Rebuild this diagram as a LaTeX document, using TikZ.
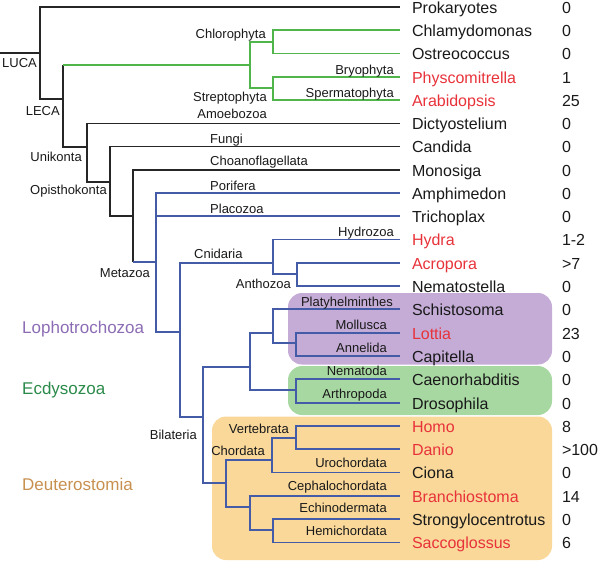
\documentclass[tikz,border=0pt]{standalone}
\usepackage{fontspec}
\setmainfont{Liberation Sans}
\usetikzlibrary{positioning}

\definecolor{plantgreen}{RGB}{80,182,76}
\definecolor{metablue}{RGB}{68,92,168}
\definecolor{hired}{RGB}{232,50,58}
\definecolor{lophobox}{RGB}{196,172,214}
\definecolor{lophotext}{RGB}{140,108,180}
\definecolor{ecdybox}{RGB}{168,216,162}
\definecolor{ecdytext}{RGB}{42,138,74}
\definecolor{deutbox}{RGB}{249,216,154}
\definecolor{deuttext}{RGB}{200,144,80}

\begin{document}
\begin{tikzpicture}[x=1pt, y=-1pt,
  tree/.style={line width=1.3pt, black!85},
  plant/.style={line width=1.3pt, plantgreen},
  meta/.style={line width=1.3pt, metablue},
  leaf/.style={anchor=west, inner xsep=12pt, inner ysep=0pt, outer sep=0pt,
    text height=12pt, text depth=0pt, text=black!90, font=\fontsize{16}{18}\selectfont},
  hit/.style={leaf, text=hired},
  count/.style={anchor=west, inner xsep=2pt, inner ysep=0pt, outer sep=0pt,
    text height=12pt, text depth=0pt, text=black!90, font=\fontsize{16}{18}\selectfont},
  clade/.style={inner sep=0pt, text=black!90, font=\fontsize{13}{15}\selectfont},
  group/.style={inner sep=0pt, anchor=base west, font=\fontsize{17}{20}\selectfont}]

%\draw[step=10, gray!30] (0,0) grid (600,563);
\useasboundingbox (0,0) rectangle (600,563);

% coloured groups
\fill[lophobox, rounded corners=14pt] (288,293) rectangle (552,364.5);
\fill[ecdybox, rounded corners=14pt] (288,366) rectangle (552,415);
\fill[deutbox, rounded corners=14pt] (212,416.5) rectangle (552,560);

\node[group, text=lophotext] (g-lopho) at (22,333) {Lophotrochozoa};
\node[group, text=ecdytext] (g-ecdy) at (22,394) {Ecdysozoa};
\node[group, text=deuttext] (g-deut) at (22,490) {Deuterostomia};

% leaves
\node[leaf] (prok) at (400,7) {Prokaryotes};
\node[leaf] (chlamy) at (400,30) {Chlamydomonas};
\node[leaf] (ostreo) at (400,53.5) {Ostreococcus};
\node[hit] (physco) at (400,77) {Physcomitrella};
\node[hit] (arabi) at (400,100) {Arabidopsis};
\node[leaf] (dicty) at (400,123.5) {Dictyostelium};
\node[leaf] (candida) at (400,146.5) {Candida};
\node[leaf] (monosiga) at (400,170) {Monosiga};
\node[leaf] (amphi) at (400,193) {Amphimedon};
\node[leaf] (tricho) at (400,216) {Trichoplax};
\node[hit] (hydra) at (400,239.5) {Hydra};
\node[hit] (acro) at (400,263) {Acropora};
\node[leaf] (nemato) at (400,286) {Nematostella};
\node[leaf] (schisto) at (400,309) {Schistosoma};
\node[hit] (lottia) at (400,333) {Lottia};
\node[leaf] (capi) at (400,356) {Capitella};
\node[leaf] (caeno) at (400,379) {Caenorhabditis};
\node[leaf] (droso) at (400,403) {Drosophila};
\node[hit] (homo) at (400,426) {Homo};
\node[hit] (danio) at (400,449) {Danio};
\node[leaf] (ciona) at (400,472.5) {Ciona};
\node[hit] (branchio) at (400,496) {Branchiostoma};
\node[leaf] (strongy) at (400,519) {Strongylocentrotus};
\node[hit] (sacco) at (400,542.5) {Saccoglossus};

% counts
\node[count] (n-prok) at (560,7) {0};
\node[count] (n-chlamy) at (560,30) {0};
\node[count] (n-ostreo) at (560,53.5) {0};
\node[count] (n-physco) at (560,77) {1};
\node[count] (n-arabi) at (560,100) {25};
\node[count] (n-dicty) at (560,123.5) {0};
\node[count] (n-candida) at (560,146.5) {0};
\node[count] (n-monosiga) at (560,170) {0};
\node[count] (n-amphi) at (560,193) {0};
\node[count] (n-tricho) at (560,216) {0};
\node[count] (n-hydra) at (560,239.5) {1-2};
\node[count] (n-acro) at (560,263) {>7};
\node[count] (n-nemato) at (560,286) {0};
\node[count] (n-schisto) at (560,309) {0};
\node[count] (n-lottia) at (560,333) {23};
\node[count] (n-capi) at (560,356) {0};
\node[count] (n-caeno) at (560,379) {0};
\node[count] (n-droso) at (560,403) {0};
\node[count] (n-homo) at (560,426) {8};
\node[count] (n-danio) at (560,449) {>100};
\node[count] (n-ciona) at (560,472.5) {0};
\node[count] (n-branchio) at (560,496) {14};
\node[count] (n-strongy) at (560,519) {0};
\node[count] (n-sacco) at (560,542.5) {6};

% inner nodes
\coordinate (root) at (0,53);
\coordinate (luca) at (40,53);
\coordinate (leca) at (63,99);
\coordinate (viri) at (250,65);
\coordinate (chloro) at (273,42);
\coordinate (strepto) at (273,88);
\coordinate (uni) at (87,147);
\coordinate (opis) at (110,182);
\coordinate (holo) at (133,216);
\coordinate (metaz) at (156,262);
\coordinate (eumet) at (180,332);
\coordinate (cnid) at (273,263);
\coordinate (antho) at (297,274);
\coordinate (bilat) at (203,417);
\coordinate (proto) at (250,367);
\coordinate (lopho) at (273,333);
\coordinate (lotcap) at (296,343);
\coordinate (ecdy) at (296,390);
\coordinate (deut) at (226,483);
\coordinate (chord) at (272,460);
\coordinate (vert) at (296,438);
\coordinate (amb) at (250,507);
\coordinate (echhem) at (273,530);

% branches
\draw[tree] (root) -- (luca);
\draw[tree] (luca) |- (prok.west);
\draw[tree] (luca) |- (leca);
\draw[tree] (leca) -- (leca |- viri);
\draw[plant] (leca |- viri) -- (viri);
\draw[plant] (viri) |- (chloro);
\draw[plant] (viri) |- (strepto);
\draw[plant] (chloro) |- (chlamy.west);
\draw[plant] (chloro) |- (ostreo.west);
\draw[plant] (strepto) |- (physco.west);
\draw[plant] (strepto) |- (arabi.west);
\draw[tree] (leca) |- (uni);
\draw[tree] (uni) |- (dicty.west);
\draw[tree] (uni) |- (opis);
\draw[tree] (opis) |- (candida.west);
\draw[tree] (opis) |- (holo);
\draw[tree] (holo) |- (monosiga.west);
\draw[tree] (holo) -- (holo |- metaz);
\draw[meta] (holo |- metaz) -- (metaz);
\draw[meta] (metaz) |- (amphi.west);
\draw[meta] (metaz) |- (tricho.west);
\draw[meta] (metaz) |- (eumet);
\draw[meta] (eumet) |- (cnid);
\draw[meta] (eumet) |- (bilat);
\draw[meta] (cnid) |- (hydra.west);
\draw[meta] (cnid) |- (antho);
\draw[meta] (antho) |- (acro.west);
\draw[meta] (antho) |- (nemato.west);
\draw[meta] (bilat) |- (proto);
\draw[meta] (bilat) |- (deut);
\draw[meta] (proto) |- (lopho);
\draw[meta] (proto) |- (ecdy);
\draw[meta] (lopho) |- (schisto.west);
\draw[meta] (lopho) |- (lotcap);
\draw[meta] (lotcap) |- (lottia.west);
\draw[meta] (lotcap) |- (capi.west);
\draw[meta] (ecdy) |- (caeno.west);
\draw[meta] (ecdy) |- (droso.west);
\draw[meta] (deut) |- (chord);
\draw[meta] (deut) |- (amb);
\draw[meta] (chord) |- (vert);
\draw[meta] (chord) |- (ciona.west);
\draw[meta] (vert) |- (homo.west);
\draw[meta] (vert) |- (danio.west);
\draw[meta] (amb) |- (branchio.west);
\draw[meta] (amb) |- (echhem);
\draw[meta] (echhem) |- (strongy.west);
\draw[meta] (echhem) |- (sacco.west);

% clade names
\node[clade, anchor=base west] (l-luca) at (2,67) {LUCA};
\node[clade, anchor=base east] (l-leca) at (60,115) {LECA};
\node[clade, anchor=base east] (l-chloro) at (266,38) {Chlorophyta};
\node[clade, anchor=base east] (l-strepto) at (267,101) {Streptophyta};
\node[clade, anchor=base east] (l-amoebo) at (267,118) {Amoebozoa};
\node[clade, anchor=base east] (l-bryo) at (394,74) {Bryophyta};
\node[clade, anchor=base east] (l-sperma) at (394,97) {Spermatophyta};
\node[clade, anchor=base west] (l-fungi) at (210,143) {Fungi};
\node[clade, anchor=base east] (l-uni) at (82,161) {Unikonta};
\node[clade, anchor=base west] (l-choano) at (210,165) {Choanoflagellata};
\node[clade, anchor=base east] (l-opis) at (107,194) {Opisthokonta};
\node[clade, anchor=base west] (l-pori) at (210,190) {Porifera};
\node[clade, anchor=base west] (l-placo) at (210,213) {Placozoa};
\node[clade, anchor=base east] (l-hydro) at (394,236) {Hydrozoa};
\node[clade, anchor=base west] (l-cnid) at (194,258) {Cnidaria};
\node[clade, anchor=base east] (l-metaz) at (150,277) {Metazoa};
\node[clade, anchor=base east] (l-antho) at (291,288) {Anthozoa};
\node[clade, anchor=base east] (l-platy) at (393,306) {Platyhelminthes};
\node[clade, anchor=base east] (l-mollu) at (387,329) {Mollusca};
\node[clade, anchor=base east] (l-anne) at (387,352) {Annelida};
\node[clade, anchor=base east] (l-nema) at (387,375) {Nematoda};
\node[clade, anchor=base east] (l-arthro) at (387,398) {Arthropoda};
\node[clade, anchor=base east] (l-bilat) at (197,439) {Bilateria};
\node[clade, anchor=base east] (l-vert) at (289,433) {Vertebrata};
\node[clade, anchor=base east] (l-chord) at (265,455) {Chordata};
\node[clade, anchor=base east] (l-uro) at (387,467) {Urochordata};
\node[clade, anchor=base east] (l-cephalo) at (387,490) {Cephalochordata};
\node[clade, anchor=base east] (l-echino) at (387,512) {Echinodermata};
\node[clade, anchor=base east] (l-hemi) at (387,535) {Hemichordata};

\end{tikzpicture}
\end{document}
